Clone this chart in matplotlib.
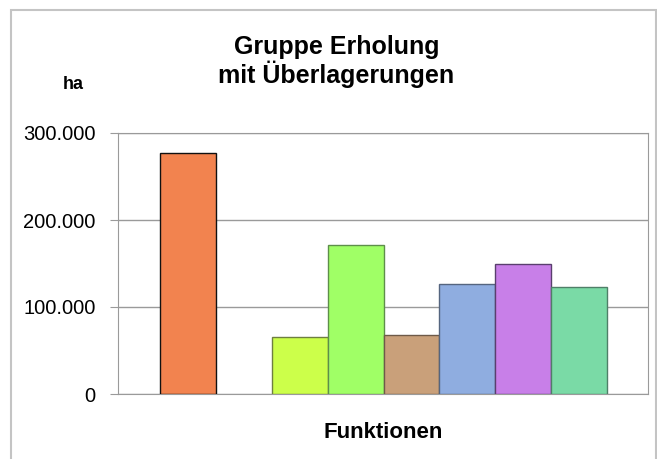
# Balkendiagramm: Gruppe Erholung mit Überlagerungen

import matplotlib.pyplot as plt
from matplotlib.patches import Rectangle

plt.rcParams['font.family'] = ['Liberation Sans', 'DejaVu Sans']

# Werte (ha)
pos = [0, 2, 3, 4, 5, 6, 7]
werte = [277000, 65000, 171000, 67500, 126000, 150000, 122500]
farben = ['#F2834F', '#CCFF4A', '#A0FF66', '#C9A07A', '#8FADE0', '#C87FE8', '#7ADAA6']
kanten = ['#111111', '#6E7F40', '#5E8F4A', '#6E5A48', '#55657F', '#5A3F6E', '#4F7F68']

yticks = [0, 100000, 200000, 300000]
ylabels = ['0', '100.000', '200.000', '300.000']

fig = plt.figure(figsize=(6.57, 4.59), dpi=100)
ax = fig.add_axes([118 / 657, 1 - 394 / 459, 530 / 657, 261 / 459])

ax.bar(pos, werte, width=1.0, color=farben, edgecolor=kanten, linewidth=1.0, zorder=3)

ax.set_xlim(-1.26, 8.24)
ax.set_ylim(0, 300000)
ax.set_yticks(yticks)
ax.set_yticklabels(ylabels, fontsize=14.5)
ax.set_xticks([])
ax.grid(axis='y', color='#9a9a9a', linewidth=1.0, zorder=0)
for s in ax.spines.values():
    s.set_color('#9a9a9a')
ax.tick_params(axis='y', length=6, color='#9a9a9a', pad=10)

ax.set_xlabel('Funktionen', fontsize=16, fontweight='bold', labelpad=20)

fig.text(0.512, 1 - 35 / 459, 'Gruppe Erholung\nmit Überlagerungen', ha='center', va='top',
         fontsize=18, fontweight='bold', linespacing=1.05)
fig.text(73 / 657, 1 - 89 / 459, 'ha', ha='center', fontsize=13, fontweight='bold')

# Rahmen
fig.add_artist(Rectangle((11 / 657, -0.05), 645 / 657, 1 - 10 / 459 + 0.05,
                         transform=fig.transFigure, fill=False,
                         edgecolor='#c4c4c4', linewidth=1.5))

plt.savefig('out.png')
